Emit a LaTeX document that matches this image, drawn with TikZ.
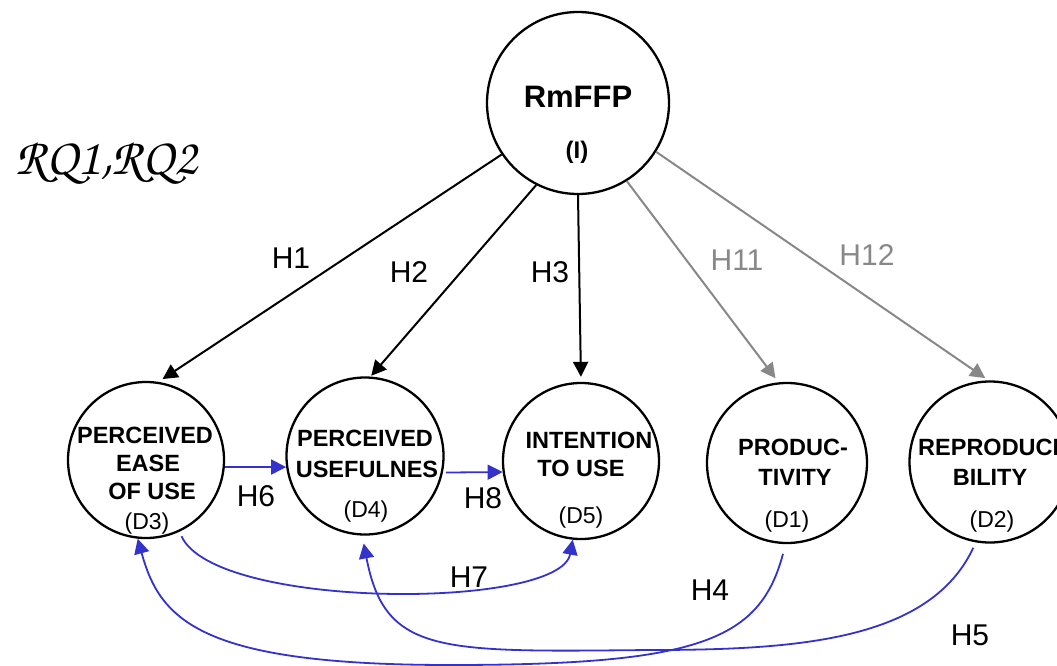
\documentclass[tikz,border=0pt]{standalone}
\usepackage[T1]{fontenc}
\usepackage{fontspec}
\setmainfont{Liberation Sans}
\usetikzlibrary{arrows.meta}
\newcommand{\rqfont}{\fontencoding{T1}\fontfamily{pzc}\fontseries{mb}\fontshape{it}\selectfont}
\definecolor{linkblue}{RGB}{51,51,204}
\definecolor{linkgray}{RGB}{136,136,136}
\begin{document}
\begin{tikzpicture}[x=1pt,y=-1pt,
  construct/.style={circle,draw,line width=2.3pt,inner sep=0pt},
  ctitle/.style={font=\fontsize{23.5}{27}\selectfont\bfseries,inner sep=0pt},
  dlabel/.style={font=\fontsize{23}{26}\selectfont,inner sep=0pt},
  hlabel/.style={font=\fontsize{30}{34}\selectfont,inner sep=0pt},
  tip/.style={-{Triangle[length=15pt,width=15pt]}},
  hyp/.style={tip,line width=2pt,black},
  hypgray/.style={tip,line width=2pt,linkgray},
  link/.style={tip,line width=1.8pt,linkblue},
]
\useasboundingbox (0,0) rectangle (1057,666);

% constructs
\node[construct,minimum size=182pt] (rm) at (578,103) {};
\node[construct,minimum size=156pt] (peou) at (146,460) {};
\node[construct,minimum size=157pt] (pu) at (365,456) {};
\node[construct,minimum size=156pt] (itu) at (581,461) {};
\node[construct,minimum size=160pt] (prod) at (787,463) {};
\node[construct,minimum size=161pt] (repro) at (990,462) {};

% construct texts
\node[font=\fontsize{31}{34}\selectfont\bfseries,inner sep=0pt] (rmname) at (578,97) {RmFFP};
\node[font=\fontsize{24}{26}\selectfont\bfseries,inner sep=0pt] (rmtag) at (577,152) {(I)};

\node[ctitle] (peou1) at (145,435) {PERCEIVED};
\node[ctitle] (peou2) at (148,463) {EASE};
\node[ctitle] (peou3) at (152,491) {OF USE};
\node[dlabel] (peou4) at (147,524) {(D3)};

\node[ctitle] (pu1) at (365,438) {PERCEIVED};
\node[ctitle] (pu2) at (367,469) {USEFULNES};
\node[dlabel] (pu3) at (366,512) {(D4)};

\node[ctitle] (itu1) at (589,440) {INTENTION};
\node[ctitle] (itu2) at (581,468) {TO USE};
\node[dlabel] (itu3) at (581,518) {(D5)};

\node[ctitle] (prod1) at (793,447) {PRODUC-};
\node[ctitle] (prod2) at (795,477) {TIVITY};
\node[dlabel] (prod3) at (787,522) {(D1)};

\node[ctitle,anchor=west] (repro1) at (918,447) {REPRODUCI};
\node[ctitle] (repro2) at (990,477) {BILITY};
\node[dlabel] (repro3) at (992,522) {(D2)};

% research questions
\node[font=\fontsize{52}{56}\rqfont,inner sep=0pt] (rq) at (106,162) {RQ1,RQ2};

% hypotheses from the treatment
\draw[hyp,shorten >=5pt] (rm.214) -- (peou.81);
\draw[hyp,shorten >=1pt] (rm.243) -- (pu.86);
\draw[hyp,shorten >=5pt] (rm.270) -- (itu.90);
\draw[hypgray,shorten >=5pt] (rm.302) -- (prod.96);
\draw[hypgray,shorten >=4pt] (rm.328) -- (repro.91);

% relations between the dependent variables
\draw[link] (peou.-5) -- (pu.188);
\draw[link,shorten <=3pt] (pu.-12) -- (itu.188);
\draw[link,shorten <=5pt] (peou.-65) .. controls (215,610) and (560,610) .. (itu.-96);
\draw[link,shorten <=10pt] (prod.-91) .. controls (760,640) and (700,665) .. (450,665)
      .. controls (200,665) and (160,620) .. (peou.-96);
\draw[link,shorten <=6pt,shorten >=8pt] (repro.-100) .. controls (930,640) and (800,650) .. (650,650)
      .. controls (440,652) and (385,655) .. (pu.-92);

% hypothesis labels
\node[hlabel] (h1) at (291,258) {H1};
\node[hlabel] (h2) at (409,272) {H2};
\node[hlabel] (h3) at (550,272) {H3};
\node[hlabel,text=linkgray] (h11) at (737,260) {H11};
\node[hlabel,text=linkgray] (h12) at (867,255) {H12};
\node[hlabel] (h6) at (256,496) {H6};
\node[hlabel] (h8) at (483,498) {H8};
\node[hlabel] (h7) at (469,577) {H7};
\node[hlabel] (h4) at (710,590) {H4};
\node[hlabel] (h5) at (970,635) {H5};
\end{tikzpicture}
\end{document}
